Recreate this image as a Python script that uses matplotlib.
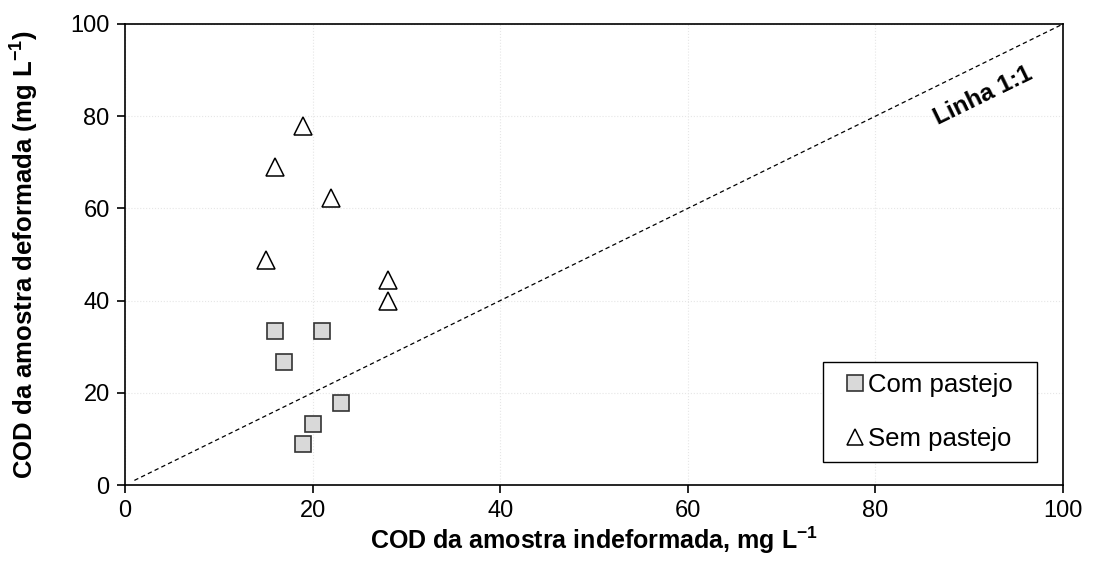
import matplotlib.pyplot as plt
from matplotlib.patches import Rectangle

plt.rcParams['font.family'] = ['Liberation Sans', 'DejaVu Sans']
plt.rcParams['mathtext.fontset'] = 'custom'
plt.rcParams['mathtext.rm'] = 'Liberation Sans'
plt.rcParams['mathtext.bf'] = 'Liberation Sans:bold'

# Com pastejo (squares)
com_x = [16, 21, 17, 23, 20, 19]
com_y = [33.3, 33.3, 26.7, 17.8, 13.3, 8.9]

# Sem pastejo (triangles)
sem_x = [19, 16, 22, 15, 28, 28]
sem_y = [77.8, 68.9, 62.2, 48.9, 44.4, 40.0]

# 1:1 line
linha_x = [1, 100]
linha_y = [1, 100]

ticks = [0, 20, 40, 60, 80, 100]

fig = plt.figure(figsize=(10.95, 5.67), dpi=100)
ax = fig.add_axes([125 / 1095, 1 - 485 / 567, 938 / 1095, 461 / 567])

ax.grid(True, color='#e6e6e6', linestyle=':', linewidth=0.8)
ax.set_axisbelow(True)

ax.plot(linha_x, linha_y, color='black', linestyle='--', linewidth=0.9,
        dashes=(3.5, 2.5))

ax.plot(com_x, com_y, linestyle='none', marker='s', markersize=11.5,
        markerfacecolor='#d9d9d9', markeredgecolor='#333333',
        markeredgewidth=1.2, label='Com pastejo')
ax.plot(sem_x, sem_y, linestyle='none', marker='^', markersize=12.5,
        markerfacecolor='white', markeredgecolor='black',
        markeredgewidth=1.1, label='Sem pastejo')

ax.text(91.5, 84.5, 'Linha 1:1', rotation=26, fontsize=17.5,
        fontweight='bold', ha='center', va='center')

ax.set_xlim(0, 100)
ax.set_ylim(0, 100)
ax.set_xticks(ticks)
ax.set_yticks(ticks)
ax.tick_params(labelsize=17, direction='out', length=6, width=1.2, pad=5)

for sp in ax.spines.values():
    sp.set_linewidth(1.2)

ax.set_xlabel(r'COD da amostra indeformada, mg L$^{\mathbf{-1}}$',
              fontsize=18, fontweight='bold', labelpad=2)
ax.set_ylabel(r'COD da amostra deformada (mg L$^{\mathbf{-1}}$)',
              fontsize=18.5, fontweight='bold', labelpad=22)

# legend box drawn separately so the padding matches the original
ax.add_patch(Rectangle((0.744, 0.05), 0.228, 0.217, transform=ax.transAxes,
                       facecolor='white', edgecolor='black', linewidth=1.0,
                       zorder=4))
leg = ax.legend(loc='center', bbox_to_anchor=(0.858, 0.1585),
                fontsize=18.5, frameon=False,
                handlelength=0.6, handletextpad=0.2,
                borderpad=0.3, labelspacing=1.2, markerscale=0.95,
                borderaxespad=0)
leg.set_zorder(5)

fig.savefig('out.png', dpi=100)
